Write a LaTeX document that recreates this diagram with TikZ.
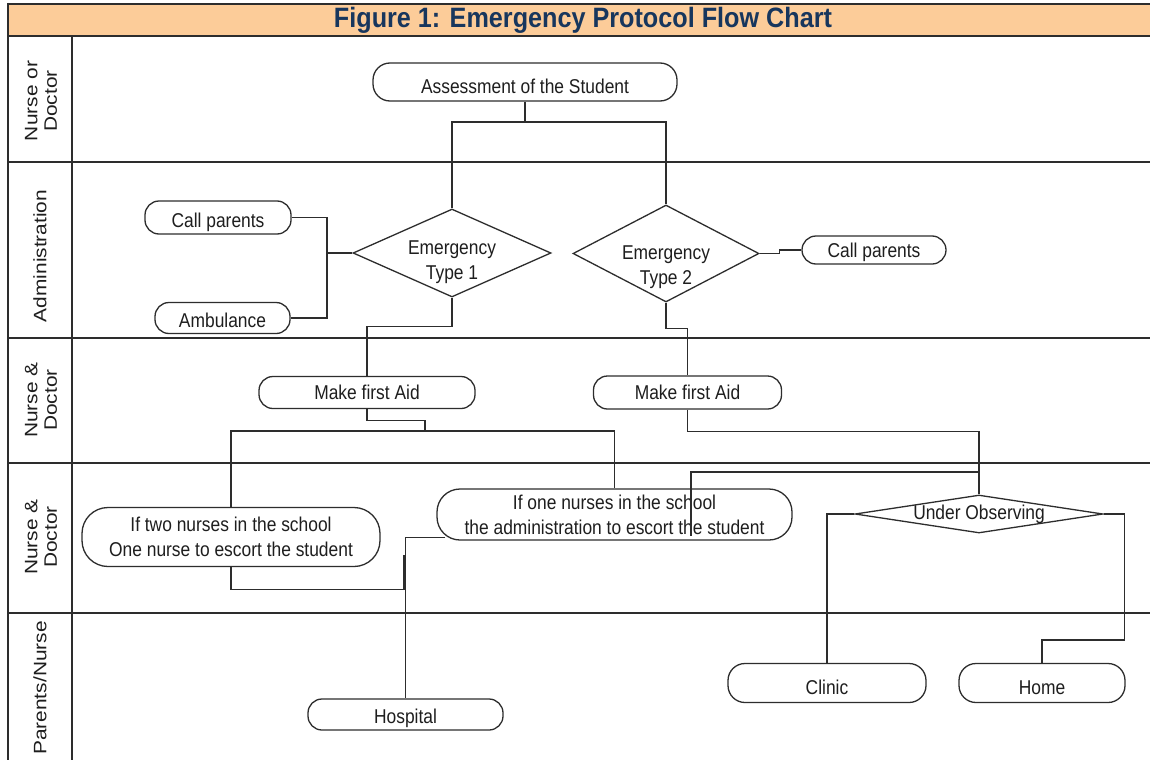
\documentclass[tikz,border=0pt]{standalone}
\usepackage{fontspec}
\setmainfont{Liberation Sans}
\newfontfamily\bodyfont[FakeStretch=0.87]{Liberation Sans}
\newfontfamily\lanefont[FakeStretch=1.16]{Liberation Sans}
\newfontfamily\titlefont[FakeStretch=0.9]{Liberation Sans}
\usetikzlibrary{shapes.geometric}
\definecolor{barfill}{RGB}{252,204,153}
\definecolor{titleblue}{RGB}{23,54,93}
\definecolor{ink}{RGB}{45,45,45}
\definecolor{txt}{RGB}{30,30,30}
\begin{document}
\begin{tikzpicture}[x=1pt,y=-1pt,
  frame/.style={draw=ink, line width=2.4pt},
  lanesep/.style={draw=ink, line width=1.8pt},
  conn/.style={draw=ink, line width=1.3pt},
  term/.style={draw=ink, line width=1.3pt, rounded corners=14pt, inner sep=0pt, align=center, text=txt, font=\bodyfont\fontsize{20}{25}\selectfont},
  tlow/.style={text height=#1, text depth=0pt},
  dia/.style={draw=ink, line width=1.3pt, diamond, inner sep=0pt},
  dtext/.style={text=txt, align=center, font=\bodyfont\fontsize{20}{25}\selectfont},
  lanelabel/.style={rotate=90, align=center, text=txt, font=\lanefont\fontsize{18}{19.5}\selectfont},
]
\useasboundingbox (0,0) rectangle (1150,760);
\fill[white] (0,0) rectangle (1150,760);

% title bar
\fill[barfill] (8,4) rectangle (1150,36);
\node[font=\titlefont\bfseries\fontsize{28}{30}\selectfont, text=titleblue] (title) at (583,20) {Figure 1: Emergency Protocol Flow Chart};
\draw[frame] (7,4) -- (1150,4);
\draw[frame] (7,36) -- (1150,36);
\draw[frame] (8,3) -- (8,760);
\draw[lanesep] (72,36) -- (72,760);

% lane separators
\foreach \yy in {162,338,463,613} \draw[lanesep] (8,\yy) -- (1150,\yy);

% lane labels
\node[lanelabel] (l1) at (41,101) {Nurse or\\Doctor};
\node[lanelabel] (l2) at (40,256) {Administration};
\node[lanelabel] (l3) at (41,400) {Nurse \&\\Doctor};
\node[lanelabel] (l4) at (41,537) {Nurse \&\\Doctor};
\node[lanelabel] (l5) at (40,688) {Parents/Nurse};

% nodes
\node[term, tlow=23.3pt, minimum width=304pt, minimum height=38pt, rounded corners=17pt] (assess) at (525,82) {Assessment of the Student};
\node[dia, minimum width=198pt, minimum height=88pt, label={[dtext, yshift=-9pt]center:Emergency\\Type 1}] (d1) at (452,253) {};
\node[dia, minimum width=186pt, minimum height=97pt, label={[dtext, yshift=-14pt]center:Emergency\\Type 2}] (d2) at (666,253.5) {};
\node[term, tlow=19.3pt, minimum width=146pt, minimum height=33pt] (cp1) at (218,217.5) {Call parents};
\node[term, tlow=18.3pt, minimum width=135pt, minimum height=31pt] (amb) at (222.5,318) {Ambulance};
\node[term, tlow=15.3pt, minimum width=144pt, minimum height=28pt] (cp2) at (874,250) {Call parents};
\node[term, tlow=14.3pt, minimum width=216pt, minimum height=32pt] (mfa1) at (367,392.5) {Make first Aid};
\node[term, tlow=14.3pt, minimum width=188pt, minimum height=33pt] (mfa2) at (687.5,392.5) {Make first Aid};
\node[term, minimum width=298pt, minimum height=59pt, rounded corners=26pt] (two) at (231,537) {If two nurses in the school\\One nurse to escort the student};
\node[term, minimum width=355pt, minimum height=51pt, rounded corners=23pt] (one) at (614.5,514.5) {If one nurses in the school\\the administration to escort the student};
\node[dia, minimum width=248pt, minimum height=38pt, label={[dtext]center:Under Observing}] (obs) at (979,514) {};
\node[term, tlow=18.3pt, minimum width=195pt, minimum height=31pt] (hosp) at (405.5,714.5) {Hospital};
\node[term, tlow=22.3pt, minimum width=198pt, minimum height=39pt, rounded corners=17pt] (clinic) at (827,683) {Clinic};
\node[term, tlow=22.3pt, minimum width=166pt, minimum height=39pt, rounded corners=17pt] (home) at (1042,683) {Home};

% connectors
\coordinate (split) at (525,122);
\draw[conn] (assess.south) -- (split);
\draw[conn] (d1.north) |- (split) -| (d2.north);

\coordinate (j1) at (327,253);
\draw[conn] (cp1.east) -| (j1);
\draw[conn] (amb.east) -| (j1);
\draw[conn] (j1) -- (d1.west);

\draw[conn] (d2.east) -- ++(20,0) |- (cp2.west);

\draw[conn] (d1.south) -- ++(0,29) -| (mfa1.north);
\draw[conn] (d2.south) -- ++(0,26) -| (mfa2.north);

\coordinate (j2) at (425,431);
\draw[conn] (mfa1.south) -- ++(0,11) -| (j2);
\draw[conn] (two.north) |- (j2) -| (one.north);

\coordinate (stub) at (404,555);
\draw[conn] (two.south) -- ++(0,22) -| (stub);
\draw[conn] ([shift={(9,-3)}]one.south west) -| (hosp.north);

\draw[conn] (mfa2.south) -- ++(0,22) -| (obs.north);
\coordinate (j4) at (obs.north |- 0,472);
\coordinate (oneint) at (691,536);
\draw[conn] (j4) -| (oneint);

\draw[conn] (obs.west) -| (clinic.north);
\draw[conn] (obs.east) -- ++(21,0) -- ++(0,126) -| (home.north);
\end{tikzpicture}
\end{document}
